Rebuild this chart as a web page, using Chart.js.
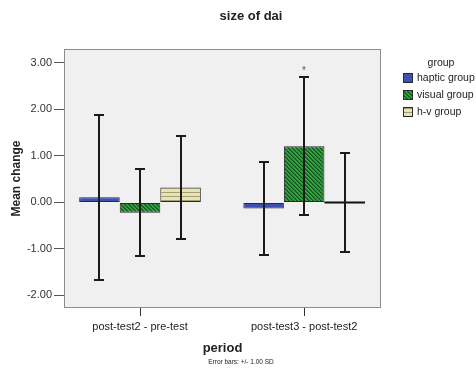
<!DOCTYPE html>
<html><head><meta charset="utf-8">
<script src="https://cdn.jsdelivr.net/npm/chart.js@4.4.1/dist/chart.umd.min.js"></script>
<style>html,body{margin:0;padding:0;background:#fff;}</style>
</head><body>
<canvas id="c" width="476" height="372"></canvas>
<script>
// ---- data ----
const chartTitle = 'size of dai';
const categories = ['post-test2 - pre-test', 'post-test3 - post-test2'];
const seriesNames = ['haptic group', 'visual group', 'h-v group'];
const hapticMean = [0.11, -0.13];
const hapticSD = [1.78, 0.99];
const visualMean = [-0.22, 1.21];
const visualSD = [0.93, 1.48];
const hvMean = [0.32, 0.00];
const hvSD = [1.11, 1.07];
const visualMarks = ['', '*'];
const yTicks = [-2, -1, 0, 1, 2, 3];
const yTitle = 'Mean change';
const xTitle = 'period';
const legendTitle = 'group';
const noteText = 'Error bars: +/- 1.00 SD';

const FONT = "'Liberation Sans', Arial, sans-serif";
Chart.defaults.font.family = FONT;

function makePattern(kind) {
  const c = document.createElement('canvas');
  const x = c.getContext('2d');
  if (kind === 'diag') {
    c.width = 4; c.height = 4;
    x.fillStyle = '#33a243'; x.fillRect(0, 0, 4, 4);
    for (let i = 0; i < 4; i++) {
      for (let j = 0; j < 4; j++) {
        const d = ((i - j) % 4 + 4) % 4;
        if (d === 0) { x.fillStyle = '#15521d'; x.fillRect(i, j, 1, 1); }
        else if (d === 1) { x.fillStyle = '#236f2c'; x.fillRect(i, j, 1, 1); }
      }
    }
  } else {
    c.width = 4; c.height = 4;
    x.fillStyle = '#e7e3b4'; x.fillRect(0, 0, 4, 4);
    x.fillStyle = '#a29e74'; x.fillRect(0, 0, 4, 1);
  }
  return x.createPattern(c, 'repeat');
}

const fills = ['#3b50b0', makePattern('diag'), makePattern('horiz')];
const means = [hapticMean, visualMean, hvMean];
const sds = [hapticSD, visualSD, hvSD];
const marks = [['', ''], visualMarks, ['', '']];

const datasets = seriesNames.map((name, s) => ({
  label: name,
  data: categories.map((c, i) => ({ x: i, y: means[s][i] })),
  backgroundColor: fills[s],
  borderColor: '#2a2a2a',
  borderWidth: 1,
  borderSkipped: false,
  barPercentage: 1.0,
  categoryPercentage: 0.741,
  sd: sds[s],
  marks: marks[s]
}));

const decor = {
  id: 'decor',
  beforeDatasetsDraw(chart) {
    const { ctx, chartArea: a } = chart;
    ctx.save();
    ctx.fillStyle = '#f0f0f0';
    ctx.fillRect(a.left, a.top, a.right - a.left, a.bottom - a.top);
    ctx.strokeStyle = '#8c8c8c';
    ctx.lineWidth = 1;
    ctx.strokeRect(a.left + 0.5, a.top + 0.5, a.right - a.left - 1, a.bottom - a.top - 1);
    ctx.restore();
  },
  afterDatasetsDraw(chart) {
    const { ctx } = chart;
    const ys = chart.scales.y;
    ctx.save();
    chart.data.datasets.forEach((ds, s) => {
      const meta = chart.getDatasetMeta(s);
      meta.data.forEach((bar, i) => {
        const m = ds.data[i].y, sd = ds.sd[i];
        const x = Math.round(bar.x);
        if (m === 0) {
          ctx.strokeStyle = '#111';
          ctx.lineWidth = 2;
          ctx.beginPath();
          const y0 = ys.getPixelForValue(0);
          ctx.moveTo(bar.x - bar.width / 2, y0);
          ctx.lineTo(bar.x + bar.width / 2, y0);
          ctx.stroke();
        }
        const yt = Math.round(ys.getPixelForValue(m + sd));
        const yb = Math.round(ys.getPixelForValue(m - sd));
        ctx.strokeStyle = '#1a1a1a';
        ctx.lineWidth = 2;
        ctx.beginPath();
        ctx.moveTo(x, yt); ctx.lineTo(x, yb);
        ctx.moveTo(x - 5, yt); ctx.lineTo(x + 5, yt);
        ctx.moveTo(x - 5, yb); ctx.lineTo(x + 5, yb);
        ctx.stroke();
        if (ds.marks[i]) {
          ctx.fillStyle = '#555';
          ctx.font = '10px ' + FONT;
          ctx.textAlign = 'center';
          ctx.textBaseline = 'middle';
          ctx.fillText(ds.marks[i], x, yt - 6);
        }
      });
    });
    ctx.restore();
  },
  afterDraw(chart) {
    const { ctx } = chart;
    ctx.save();
    ctx.fillStyle = '#222';
    ctx.font = 'bold 13px ' + FONT;
    ctx.textAlign = 'center';
    ctx.textBaseline = 'middle';
    ctx.fillText(chartTitle, 251, 16);
    ctx.font = '10.5px ' + FONT;
    ctx.fillStyle = '#222';
    ctx.fillText(legendTitle, 441, 63);
    ctx.textAlign = 'left';
    const rows = [78, 95, 112];
    chart.data.datasets.forEach((ds, s) => {
      const y = rows[s];
      ctx.fillStyle = ds.backgroundColor;
      ctx.fillRect(403, y - 5, 10, 10);
      ctx.strokeStyle = '#2a2a2a';
      ctx.lineWidth = 1;
      ctx.strokeRect(403.5, y - 4.5, 9, 9);
      ctx.fillStyle = '#222';
      ctx.fillText(ds.label, 417, y);
    });
    ctx.textAlign = 'center';
    ctx.font = '6.5px ' + FONT;
    ctx.fillStyle = '#222';
    ctx.fillText(noteText, 241, 362);
    ctx.restore();
  }
};

new Chart(document.getElementById('c'), {
  type: 'bar',
  data: { datasets },
  options: {
    responsive: false,
    animation: false,
    devicePixelRatio: 1,
    layout: { padding: { left: 0, right: 95, top: 49, bottom: 0 } },
    plugins: { legend: { display: false }, tooltip: { enabled: false }, title: { display: false } },
    scales: {
      x: {
        type: 'linear',
        offset: false,
        min: -0.463,
        max: 1.468,
        afterBuildTicks(scale) { scale.ticks = categories.map((c, i) => ({ value: i })); },
        afterFit(scale) { scale.height = 64; },
        ticks: {
          callback: (v, i) => categories[i],
          color: '#222',
          font: { size: 11 },
          padding: 4,
          maxRotation: 0,
          autoSkip: false
        },
        grid: { offset: false, drawOnChartArea: false, drawTicks: true, tickLength: 8, color: '#333', lineWidth: 1 },
        border: { display: false },
        title: { display: true, text: xTitle, color: '#222', font: { size: 13, weight: 'bold' }, padding: { top: 0, bottom: 16 } }
      },
      y: {
        min: -2.27,
        max: 3.30,
        afterBuildTicks(scale) { scale.ticks = yTicks.map(v => ({ value: v })); },
        afterFit(scale) { scale.width = 64; },
        ticks: {
          callback: v => Number(v).toFixed(2),
          color: '#333',
          font: { size: 11 },
          padding: 2
        },
        grid: { drawOnChartArea: false, drawTicks: true, tickLength: 10, color: '#555', lineWidth: 1 },
        border: { display: false },
        title: { display: true, text: yTitle, color: '#222', font: { size: 12, weight: 'bold' }, padding: { top: 9, bottom: 0 } }
      }
    }
  },
  plugins: [decor]
});
</script>
</body></html>
